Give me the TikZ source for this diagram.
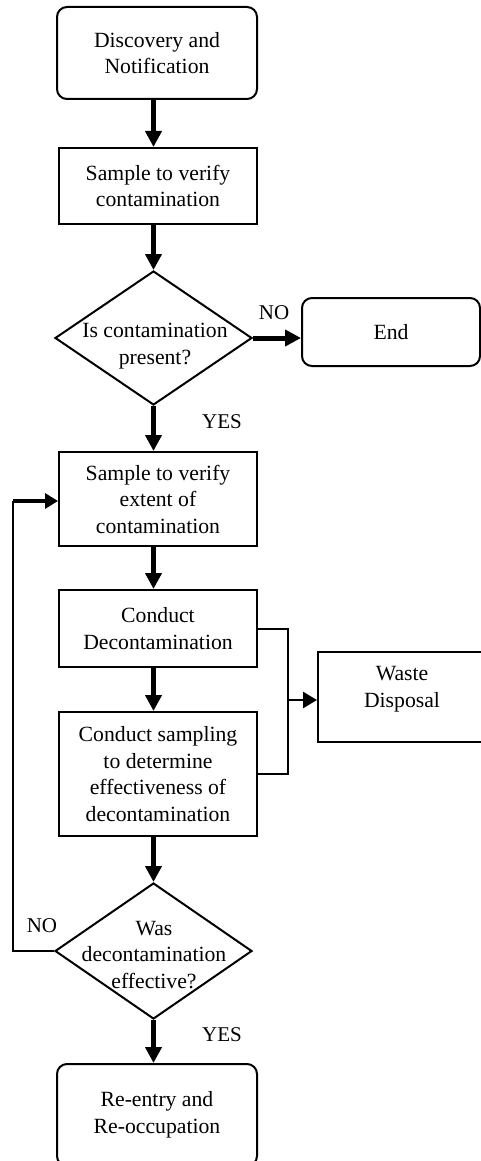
\documentclass[tikz,border=0pt]{standalone}
\usepackage{fontspec}
\setmainfont{Liberation Serif}
\usetikzlibrary{arrows.meta,shapes.geometric}
\begin{document}
\begin{tikzpicture}[x=1pt,y=-1pt,
  txt/.style={align=center,font=\fontsize{21.7}{26.5}\selectfont,inner sep=0pt},
  box/.style={draw,line width=2pt,minimum width=198pt,txt},
  rbox/.style={box,rounded corners=10pt},
  dia/.style={draw,diamond,line width=2pt,inner sep=0pt,minimum width=197pt},
  lab/.style={font=\fontsize{21}{24}\selectfont,inner sep=0pt},
  flow/.style={line width=5pt,-{Triangle[width=16pt,length=16pt]}},
  link/.style={line width=2pt},
  fbarrow/.style={line width=4pt,-{Triangle[width=15pt,length=13pt]}},
  warrow/.style={line width=2.5pt,-{Triangle[width=16pt,length=14pt]}}
]
\useasboundingbox (0,0) rectangle (481,1161);

\node[rbox,minimum width=200pt,minimum height=92pt] (b1) at (157,53) {Discovery and\\Notification};
\node[box,minimum height=76pt] (b2) at (158,186) {Sample to verify\\contamination};
\node[dia,minimum height=134pt] (d1) at (153.5,338) {};
\node[txt] (d1t) at (155,346) {Is contamination\\present?};
\node[rbox,minimum width=178pt,minimum height=68pt] (e) at (391,332) {End};
\node[box,minimum height=94pt] (b3) at (158,499) {Sample to verify\\extent of\\contamination};
\node[box,minimum height=77pt] (b4) at (158,628.5) {Conduct\\Decontamination};
\node[box,minimum height=124pt] (b5) at (158,774) {Conduct sampling\\to determine\\effectiveness of\\decontamination};
\node[draw,line width=2pt,minimum width=166pt,minimum height=90pt] (w) at (401,697) {};
\node[txt] (wt) at (402,689) {Waste\\Disposal};
\node[dia,minimum height=136pt] (d2) at (153.5,951) {};
\node[txt] (d2t) at (154,955) {Was\\decontamination\\effective?};
\node[rbox,minimum width=200pt,minimum height=102pt] (b6) at (157,1115) {Re-entry and\\Re-occupation};

\node[lab] (no1) at (274,313) {NO};
\node[lab] (yes1) at (222,422) {YES};
\node[lab] (no2) at (42,926) {NO};
\node[lab] (yes2) at (222,1035) {YES};

\draw[flow] (b1.south -| d1.center) -- (b2.north -| d1.center);
\draw[flow] (b2.south -| d1.center) -- (d1.north);
\draw[flow] (d1.east) -- (d1.east -| e.west);
\draw[flow] (d1.south) -- (b3.north -| d1.center);
\draw[flow] (b3.south -| d1.center) -- (b4.north -| d1.center);
\draw[flow] (b4.south -| d1.center) -- (b5.north -| d1.center);
\draw[flow] (b5.south -| d1.center) -- (d2.north);
\draw[flow] (d2.south) -- (b6.north -| d1.center);

\coordinate (fb) at (13,501);
\draw[link] (d2.west) -| (fb);
\draw[fbarrow] (fb) -- (fb -| b3.west);

\coordinate (wj) at (288,700);
\draw[link] (b4.east) -| (wj) |- (b5.east);
\draw[warrow] (wj) -- (wj -| w.west);
\end{tikzpicture}
\end{document}
